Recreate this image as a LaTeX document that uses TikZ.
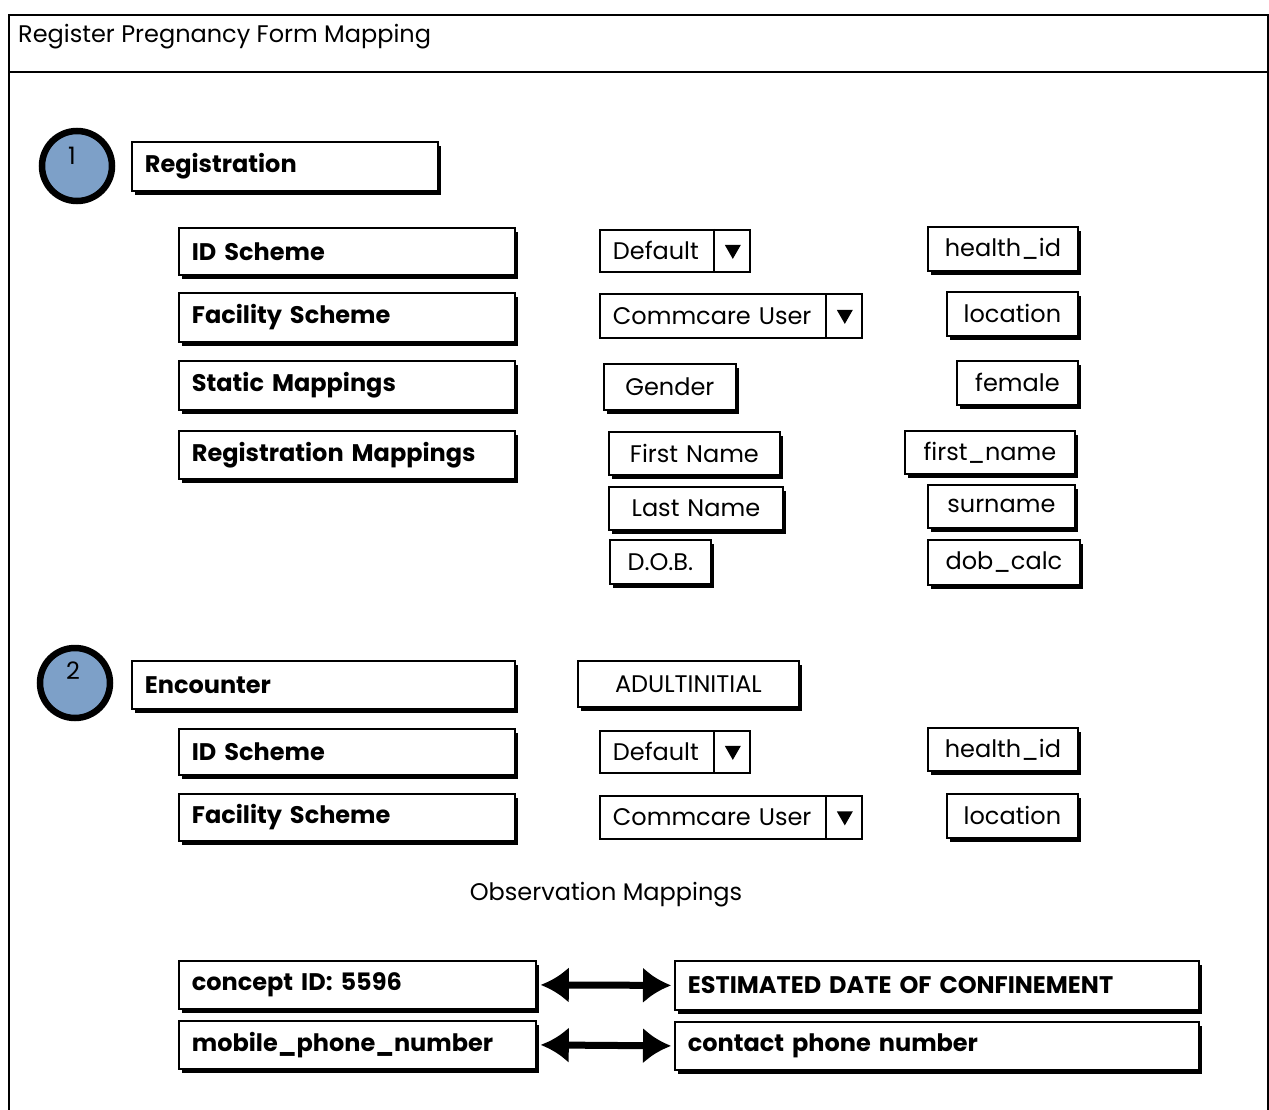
\documentclass[tikz,border=0pt]{standalone}
\usepackage{fontspec}
\setmainfont{Poppins}
\usetikzlibrary{shadows,arrows.meta}
\definecolor{circblue}{HTML}{7DA0C8}
\newcommand\Bx[7]{%
  \pgfmathsetmacro\bxw{#5-#3}\pgfmathsetmacro\bxh{#6-#4}\pgfmathsetmacro\bxtw{#5-#3-26}%
  \node[#1, minimum width=\bxw pt, minimum height=\bxh pt, text width=\bxtw pt, anchor=north west] (#2) at (#3,#4) {#7};}
\begin{document}
\begin{tikzpicture}[x=1pt,y=-1pt,
  base/.style={draw, line width=1.8pt, fill=white, rectangle, inner xsep=13pt, inner ysep=0pt, font=\fontsize{24}{28}\selectfont},
  shb/.style={base, drop shadow={shadow xshift=3pt, shadow yshift=-4pt, fill=black, opacity=1}},
  lbl/.style={shb, align=left, font=\fontsize{24}{28}\selectfont\bfseries},
  val/.style={shb, align=center},
  dd/.style={base, align=left},
  obs/.style={shb, align=left, font=\fontsize{24}{28}\selectfont\bfseries},
  num/.style={circle, fill=circblue, draw, line width=6.5pt, minimum size=70pt, inner sep=0pt},
  numtxt/.style={font=\fontsize{24}{26}\selectfont, inner sep=0pt},
  plain/.style={font=\fontsize{24}{28}\selectfont, inner sep=0pt},
  tri/.style={fill=black},
  dbl/.style={line width=7pt, {Latex[length=28pt,width=36pt]}-{Latex[length=28pt,width=36pt]}}
]
\useasboundingbox (0,0) rectangle (1269,1110);
% frame
\node[draw, line width=2pt, minimum width=1259pt, minimum height=1110pt, anchor=north west, inner sep=0pt] (frame) at (8,14) {};
\coordinate (barL) at (8,72);
\coordinate (barR) at (1267,72);
\draw[line width=2pt] (barL) -- (barR);
\node[plain, anchor=west] (title) at (18,37) {Register Pregnancy Form Mapping};

% section 1
\node[num] (c1) at (77,166) {};
\node[numtxt] (n1) at (72,156) {1};
\Bx{lbl}{reg}{131}{141}{437}{190}{Registration}
\Bx{lbl}{ids1}{178}{227}{514}{274}{ID Scheme}
\Bx{lbl}{fac1}{178}{292}{514}{341}{Facility Scheme}
\Bx{lbl}{stat}{178}{360}{514}{409}{Static Mappings}
\Bx{lbl}{regm}{178}{430}{514}{478}{Registration Mappings}

\Bx{dd}{def1}{599}{229}{749}{271}{Default}
\draw[line width=1.8pt] ([xshift=-37pt]def1.north east) -- ([xshift=-37pt]def1.south east);
\fill[tri, shift={(def1.east)}] (-26,-6) -- (-10,-6) -- (-18,8) -- cycle;
\Bx{dd}{cc1}{599}{293}{861}{337}{Commcare User}
\draw[line width=1.8pt] ([xshift=-37pt]cc1.north east) -- ([xshift=-37pt]cc1.south east);
\fill[tri, shift={(cc1.east)}] (-26,-6) -- (-10,-6) -- (-18,8) -- cycle;

\Bx{val}{gen}{603}{363}{735}{409}{Gender}
\Bx{val}{fn}{608}{431}{779}{474}{First Name}
\Bx{val}{ln}{608}{486}{782}{529}{Last Name}
\Bx{val}{dob}{609}{539}{710}{583}{D.O.B.}

\Bx{val}{hid1}{927}{226}{1077}{270}{health\_id}
\Bx{val}{loc1}{946}{291}{1077}{335}{location}
\Bx{val}{fem}{956}{360}{1077}{404}{female}
\Bx{val}{fnm}{904}{430}{1074}{473}{first\_name}
\Bx{val}{sur}{927}{484}{1074}{527}{surname}
\Bx{val}{dobc}{927}{539}{1079}{584}{dob\_calc}

% section 2
\node[num] (c2) at (75,683) {};
\node[numtxt] (n2) at (73,671) {2};
\Bx{lbl}{enc}{131}{660}{514}{708}{Encounter}
\Bx{val}{adult}{577}{660}{798}{706}{ADULTINITIAL}
\Bx{lbl}{ids2}{178}{728}{514}{774}{ID Scheme}
\Bx{lbl}{fac2}{178}{793}{514}{840}{Facility Scheme}
\Bx{dd}{def2}{599}{730}{749}{772}{Default}
\draw[line width=1.8pt] ([xshift=-37pt]def2.north east) -- ([xshift=-37pt]def2.south east);
\fill[tri, shift={(def2.east)}] (-26,-6) -- (-10,-6) -- (-18,8) -- cycle;
\Bx{dd}{cc2}{599}{795}{861}{838}{Commcare User}
\draw[line width=1.8pt] ([xshift=-37pt]cc2.north east) -- ([xshift=-37pt]cc2.south east);
\fill[tri, shift={(cc2.east)}] (-26,-6) -- (-10,-6) -- (-18,8) -- cycle;
\Bx{val}{hid2}{927}{727}{1077}{770}{health\_id}
\Bx{val}{loc2}{946}{793}{1077}{837}{location}

\node[plain] (obsm) at (606,895) {Observation Mappings};

\Bx{obs}{cid}{178}{960}{535}{1008}{concept ID: 5596}
\Bx{obs}{edc}{674}{960}{1198}{1009}{ESTIMATED DATE OF CONFINEMENT}
\Bx{obs}{mob}{178}{1020}{535}{1068}{mobile\_phone\_number}
\Bx{obs}{cpn}{674}{1021}{1198}{1069}{contact phone number}
\draw[dbl] ([xshift=4pt]cid.east) -- ([xshift=-3pt]edc.west);
\draw[dbl] ([xshift=4pt]mob.east) -- ([xshift=-3pt]cpn.west);
\end{tikzpicture}
\end{document}
